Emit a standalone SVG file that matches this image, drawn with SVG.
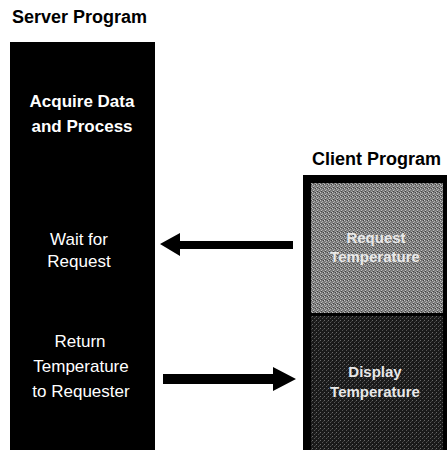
<svg xmlns="http://www.w3.org/2000/svg" width="447" height="450" viewBox="0 0 447 450">
<style>
.title{font-family:"Liberation Sans",Arial,sans-serif;font-weight:bold;font-size:18px;fill:#000}
.srv{font-family:"Liberation Sans",Arial,sans-serif;font-size:17px;fill:#fff;text-anchor:middle}
.srvb{font-weight:bold}
.cli{font-family:"Liberation Sans",Arial,sans-serif;font-weight:bold;font-size:15px;fill:#e8e8e8;text-anchor:middle}
.arrow{fill:#000}
</style>
<defs>
<pattern id="ditherLight" width="4" height="4" patternUnits="userSpaceOnUse">
<rect width="4" height="4" fill="#7a7a7a"/>
<rect x="0" y="0" width="1" height="1" fill="#c8c8c8"/>
<rect x="2" y="1" width="1" height="1" fill="#b0b0b0"/>
<rect x="1" y="2" width="1" height="1" fill="#c0c0c0"/>
<rect x="3" y="3" width="1" height="1" fill="#a8a8a8"/>
<rect x="3" y="0" width="1" height="1" fill="#444"/>
<rect x="1" y="3" width="1" height="1" fill="#444"/>
</pattern>
<pattern id="ditherDark" width="4" height="4" patternUnits="userSpaceOnUse">
<rect width="4" height="4" fill="#1a1a1a"/>
<rect x="0" y="0" width="1" height="1" fill="#6a6a6a"/>
<rect x="2" y="2" width="1" height="1" fill="#555"/>
<rect x="3" y="1" width="1" height="1" fill="#3a3a3a"/>
</pattern>
</defs>
<rect width="447" height="450" fill="#fff"/>

<text class="title" x="12" y="23">Server Program</text>
<text class="title" x="312" y="165">Client Program</text>

<g id="server-program">
<rect x="10" y="42" width="145" height="408" fill="#000"/>
</g>
<g id="acquire-data">
<text class="srv srvb" x="82" y="107">Acquire Data</text>
<text class="srv srvb" x="82" y="132">and Process</text>
</g>
<g id="wait-for-request">
<text class="srv" x="79" y="245">Wait for</text>
<text class="srv" x="79" y="267">Request</text>
</g>
<g id="return-temperature">
<text class="srv" x="80" y="347">Return</text>
<text class="srv" x="81" y="372">Temperature</text>
<text class="srv" x="81" y="397">to Requester</text>
</g>

<g id="client-program">
<rect x="303" y="175" width="144" height="275" fill="#000"/>
</g>
<g id="request-temperature">
<rect x="311" y="183" width="132" height="130" fill="url(#ditherLight)"/>
<text class="cli" x="376" y="243">Request</text>
<text class="cli" x="375" y="262">Temperature</text>
</g>
<g id="display-temperature">
<rect x="311" y="316" width="132" height="134" fill="url(#ditherDark)"/>
<text class="cli" x="375" y="377">Display</text>
<text class="cli" x="375" y="397">Temperature</text>
</g>

<g id="connectors">
<polygon class="arrow" points="293,241 180,241 180,233 160,244 180,256 180,249 293,249"/>
<polygon class="arrow" points="163,374 273,374 273,367 296,379 273,391 273,384 163,384"/>
</g>
</svg>
